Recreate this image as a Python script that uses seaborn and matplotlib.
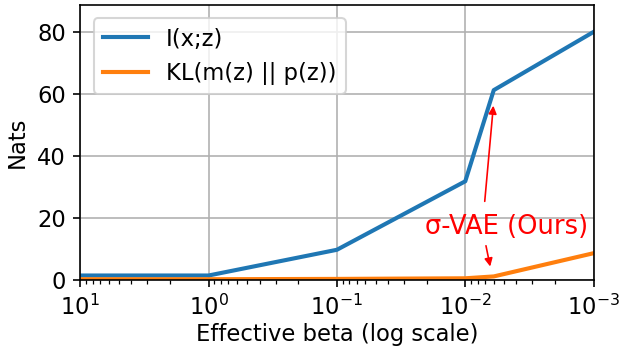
import numpy as np
import pandas as pd
import seaborn as sns
import matplotlib
matplotlib.use("Agg")
import matplotlib.pyplot as plt

# effective beta values (x, log scale, inverted)
beta = [10, 1, 0.1, 0.01, 0.006, 0.001]
# mutual information I(x;z)
mi = [1.4, 1.4, 9.7, 31.8, 61.2, 80.0]
# KL(m(z) || p(z))
kl = [0.2, 0.2, 0.3, 0.5, 1.1, 8.6]

df = pd.DataFrame({"beta": beta, "mi": mi, "kl": kl})

plt.rcParams["font.size"] = 11

fig = plt.figure(figsize=(4.2, 2.36), dpi=148)
ax = fig.add_axes([0.129, 0.198, 0.826, 0.788])

sns.lineplot(data=df, x="beta", y="mi", ax=ax, color="#1f77b4", label="I(x;z)", linewidth=2.0)
sns.lineplot(data=df, x="beta", y="kl", ax=ax, color="#ff7f0e", label="KL(m(z) || p(z))", linewidth=2.0)

ax.set_xscale("log")
ax.set_xlim(10, 1e-3)
ax.set_ylim(0, 88.8)
ax.set_yticks([0, 20, 40, 60, 80])
ax.grid(True, which="major", color="#b0b0b0", linewidth=0.8)
ax.set_xlabel("Effective beta (log scale)", labelpad=1.5)
ax.set_ylabel("Nats")
ax.legend(loc="upper left", borderaxespad=0.6)

# annotation with two red arrows
ax.text(0.0048, 17.1, "σ-VAE (Ours)", color="red", ha="center", va="center", fontsize=12.5)
ax.annotate("", xy=(0.006, 57.5), xytext=(0.0071, 24.0),
            arrowprops=dict(arrowstyle="-|>", color="red", lw=0.8, mutation_scale=8))
ax.annotate("", xy=(0.0063, 3.0), xytext=(0.0070, 12.3),
            arrowprops=dict(arrowstyle="-|>", color="red", lw=0.8, mutation_scale=8))

fig.savefig("out.png", dpi=148)
